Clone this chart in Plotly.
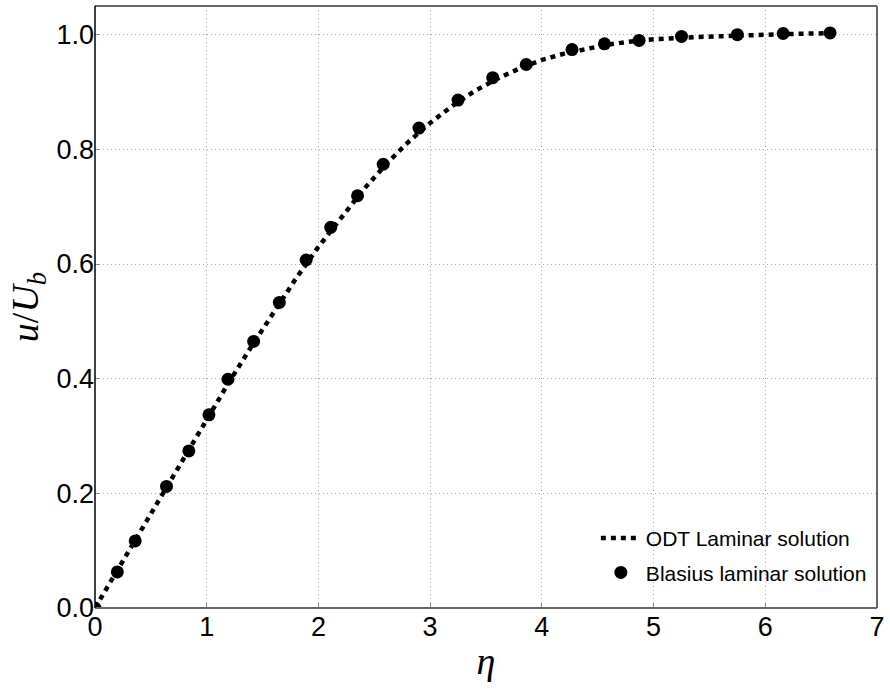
import plotly.graph_objects as go

# ODT laminar solution (dashed line)
eta_line = [0.0, 0.2, 0.4, 0.6, 0.8, 1.0, 1.2, 1.4, 1.6, 1.8, 2.0, 2.2, 2.4, 2.6, 2.8,
            3.0, 3.2, 3.4, 3.6, 3.8, 4.0, 4.2, 4.4, 4.6, 4.8, 5.0, 5.4, 5.8, 6.2, 6.65]
u_line = [0.0, 0.066, 0.133, 0.199, 0.265, 0.330, 0.394, 0.456, 0.517, 0.575, 0.630,
          0.681, 0.729, 0.773, 0.812, 0.846, 0.876, 0.902, 0.923, 0.941, 0.956, 0.967,
          0.976, 0.983, 0.988, 0.992, 0.996, 0.999, 1.001, 1.003]

# Blasius laminar solution (points)
eta_pts = [0.0, 0.20, 0.36, 0.64, 0.84, 1.02, 1.19, 1.42, 1.65, 1.89, 2.11, 2.35, 2.58,
           2.90, 3.25, 3.56, 3.86, 4.27, 4.56, 4.87, 5.25, 5.75, 6.16, 6.58]
u_pts = [0.0, 0.063, 0.117, 0.212, 0.274, 0.337, 0.399, 0.465, 0.533, 0.607, 0.664,
         0.719, 0.774, 0.837, 0.886, 0.925, 0.948, 0.974, 0.984, 0.990, 0.997, 1.000,
         1.002, 1.003]

x_ticks = [0, 1, 2, 3, 4, 5, 6, 7]
y_ticks = [0.0, 0.2, 0.4, 0.6, 0.8, 1.0]

SANS = "Liberation Sans Narrow, Arial Narrow, Liberation Sans, Arial, sans-serif"
TICKFONT = dict(family=SANS, size=27, color="black")
MATHFONT = dict(family="Liberation Serif, DejaVu Serif, serif", size=38, color="black")

fig = go.Figure()
fig.add_trace(go.Scatter(
    x=eta_line, y=u_line, mode="lines", name="ODT Laminar solution",
    legendgroup="a",
    line=dict(color="black", width=4.5, dash="5px,5px"),
))
fig.add_trace(go.Scatter(
    x=eta_pts, y=u_pts, mode="markers", name="Blasius laminar solution",
    legendgroup="b",
    marker=dict(color="black", size=13, symbol="circle"),
))

GRID = dict(showgrid=True, gridcolor="#aaaaaa", griddash="1px,3px", gridwidth=1)

fig.update_layout(
    width=890, height=690,
    margin=dict(l=95, r=5, t=6, b=82),
    paper_bgcolor="white", plot_bgcolor="white",
    showlegend=True,
    legend=dict(
        x=0.6405, y=0.025, xanchor="left", yanchor="bottom",
        bgcolor="rgba(0,0,0,0)", borderwidth=0,
        font=dict(family=SANS, size=21, color="black"),
        itemwidth=40, traceorder="grouped", tracegroupgap=4,
    ),
    xaxis=dict(
        range=[0, 7], tickvals=x_ticks, ticktext=[str(v) for v in x_ticks],
        tickfont=TICKFONT, ticks="inside", ticklen=5, tickcolor="#888888",
        ticklabeloverflow="allow",
        showline=False, zeroline=False,
        title=dict(text="<i>η</i>", font=MATHFONT, standoff=6),
        **GRID,
    ),
    yaxis=dict(
        range=[0, 1.05], tickvals=y_ticks, ticktext=["%.1f" % v for v in y_ticks],
        tickfont=TICKFONT, ticks="inside", ticklen=5, tickcolor="#888888",
        ticklabeloverflow="allow",
        showline=False, zeroline=False,
        title=dict(text="<i>u</i>/<i>U</i><sub><i>b</i></sub>", font=MATHFONT, standoff=6),
        **GRID,
    ),
)

# Axes frame: grey top/right/bottom spines, black left spine
frame = [
    dict(x0=0, x1=1, y0=0, y1=0, color="#666666", w=2),
    dict(x0=0, x1=1, y0=1, y1=1, color="#666666", w=2),
    dict(x0=1, x1=1, y0=0, y1=1, color="#666666", w=2),
    dict(x0=0, x1=0, y0=0, y1=1, color="black", w=1.5),
]
for s in frame:
    fig.add_shape(type="line", xref="paper", yref="paper",
                  x0=s["x0"], x1=s["x1"], y0=s["y0"], y1=s["y1"],
                  line=dict(color=s["color"], width=s["w"]), layer="above")

fig.write_html("out.html")
